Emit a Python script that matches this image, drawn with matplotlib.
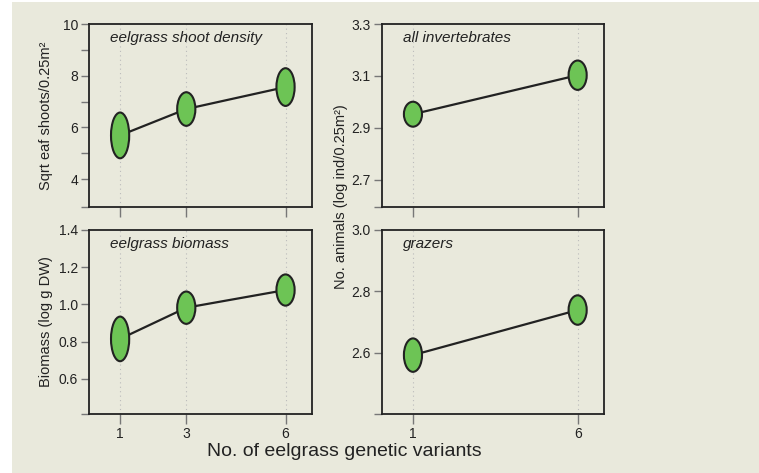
import matplotlib
matplotlib.use("Agg")
import matplotlib.pyplot as plt
from matplotlib.patches import Ellipse, Rectangle
from matplotlib.ticker import MultipleLocator

plt.rcParams['font.family'] = ['Liberation Sans', 'DejaVu Sans']

# donnees
x_three = [1, 3, 6]
x_two = [1, 6]

shoot_mean = [5.69, 6.71, 7.56]
shoot_span = [1.77, 1.30, 1.46]

biomass_mean = [0.814, 0.982, 1.077]
biomass_span = [0.240, 0.174, 0.168]

invert_mean = [2.953, 3.103]
invert_span = [0.096, 0.113]

grazer_mean = [2.592, 2.739]
grazer_span = [0.109, 0.096]

BG = "#e9e9dc"
GREEN = "#6dc455"
DARK = "#222222"

fig = plt.figure(figsize=(7.59, 4.73), dpi=100, facecolor="white")
fig.patches.append(Rectangle((12 / 759, 0), 1, 1 - 2 / 473, transform=fig.transFigure,
                             facecolor=BG, edgecolor="none", zorder=-10))

W, H = 759.0, 473.0


def make_ax(left, top, right, bottom):
    return fig.add_axes([left / W, 1 - bottom / H, (right - left) / W, (bottom - top) / H])


def draw_panel(ax, xs, means, spans, title, ylim, yticks, yminor, show_xlabels, ticks_fmt):
    ax.set_facecolor("none")
    ax.set_xlim(0.06, 6.8)
    ax.set_ylim(*ylim)
    for xv in xs:
        ax.axvline(xv, color="#bbbbbb", lw=0.8, ls=(0, (1, 3)), zorder=0)
    ax.plot(xs, means, color=DARK, lw=1.6, zorder=2)
    for xv, m, s in zip(xs, means, spans):
        ax.add_patch(Ellipse((xv, m), 0.55, s, facecolor=GREEN, edgecolor=DARK,
                             lw=1.5, zorder=3))
    ax.set_xticks(xs)
    if show_xlabels:
        ax.set_xticklabels([str(v) for v in xs])
    else:
        ax.set_xticklabels([])
    ax.set_yticks(yticks)
    ax.set_yticks(yminor + [ylim[0]], minor=True)
    ax.yaxis.set_major_formatter(ticks_fmt)
    ax.tick_params(axis="both", which="both", color="#777777", length=6, width=1,
                   labelsize=10, labelcolor=DARK, pad=2)
    ax.tick_params(axis="x", length=7)
    for sp in ax.spines.values():
        sp.set_color(DARK)
        sp.set_linewidth(1.3)
    ax.text(0.095, 0.925, title, transform=ax.transAxes, fontsize=11, style="italic",
            color=DARK, va="center", ha="left")


fmt0 = lambda v, p: "%d" % round(v)
fmt1 = lambda v, p: "%.1f" % v

ax_tl = make_ax(89, 24, 312, 207)
draw_panel(ax_tl, x_three, shoot_mean, shoot_span, "eelgrass shoot density",
           (2.92, 10), [4, 6, 8, 10], [5, 7, 9], False, fmt0)

ax_tr = make_ax(382, 24, 604, 207)
draw_panel(ax_tr, x_two, invert_mean, invert_span, "all invertebrates",
           (2.596, 3.3), [2.7, 2.9, 3.1, 3.3], [], False, fmt1)

ax_bl = make_ax(89, 230, 312, 414)
draw_panel(ax_bl, x_three, biomass_mean, biomass_span, "eelgrass biomass",
           (0.41, 1.4), [0.6, 0.8, 1.0, 1.2, 1.4], [], True, fmt1)

ax_br = make_ax(382, 230, 604, 414)
draw_panel(ax_br, x_two, grazer_mean, grazer_span, "grazers",
           (2.4, 3.0), [2.6, 2.8, 3.0], [], True, fmt1)

ax_tl.set_ylabel("Sqrt eaf shoots/0.25m²", fontsize=10.5, color=DARK)
ax_tl.yaxis.set_label_coords(-0.163, 0.5)
ax_bl.set_ylabel("Biomass (log g DW)", fontsize=10.5, color=DARK)
ax_bl.yaxis.set_label_coords(-0.163, 0.5)

fig.text(341 / W, 1 - 197 / H, "No. animals (log ind/0.25m²)", rotation=90, fontsize=10.5,
         color=DARK, ha="center", va="center")
fig.text(344 / W, 1 - 451 / H, "No. of eelgrass genetic variants", fontsize=14,
         color=DARK, ha="center", va="center")

fig.savefig("out.png", dpi=100, facecolor=fig.get_facecolor())
